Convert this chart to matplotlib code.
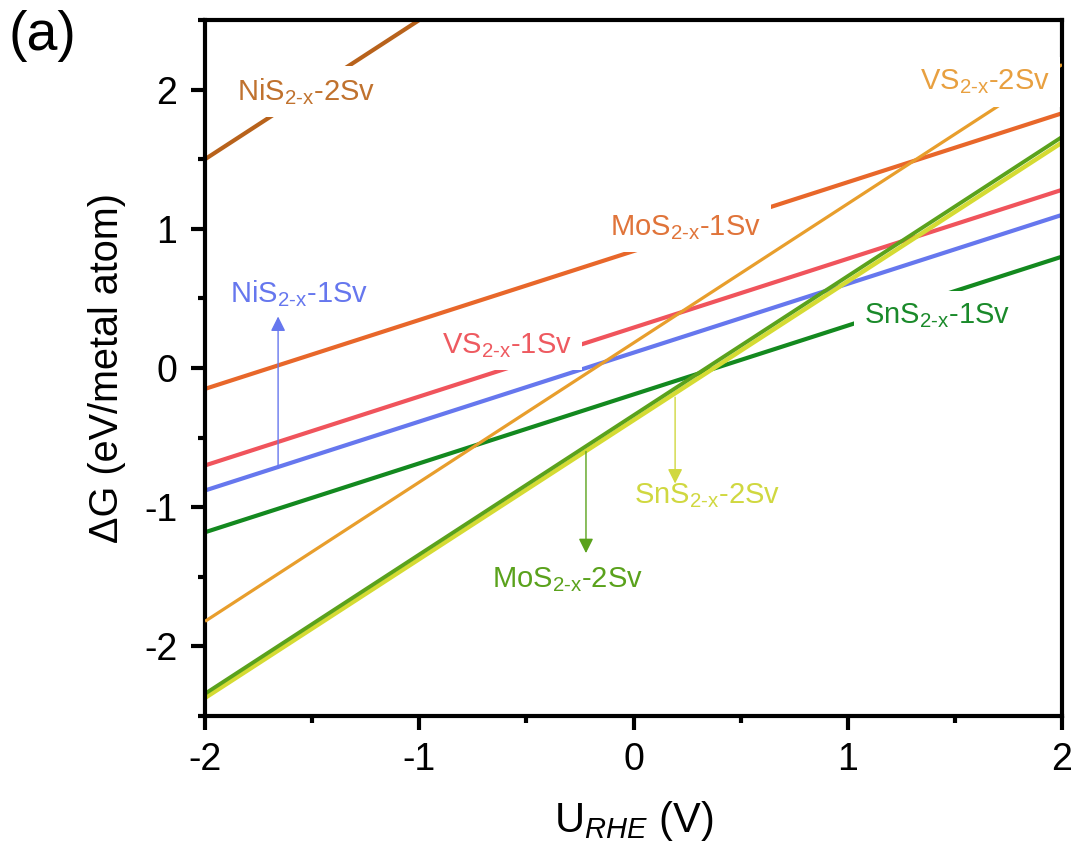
import numpy as np
import matplotlib.pyplot as plt
from matplotlib.ticker import MultipleLocator

plt.rcParams['font.family'] = ['Liberation Sans', 'DejaVu Sans']
plt.rcParams['mathtext.fontset'] = 'custom'
plt.rcParams['mathtext.rm'] = 'Liberation Sans'
plt.rcParams['mathtext.it'] = 'Liberation Sans:italic'
plt.rcParams['axes.unicode_minus'] = False

# Free energy lines, read at U = -2 V and U = 2 V
u_rhe = [-2, 2]
nis_2sv = [1.50, 5.50]
mos_1sv = [-0.15, 1.83]
vs_1sv = [-0.70, 1.28]
nis_1sv = [-0.88, 1.10]
sns_1sv = [-1.18, 0.80]
vs_2sv = [-1.82, 2.18]
sns_2sv = [-2.37, 1.62]
mos_2sv = [-2.34, 1.66]

# name, vacancies, values, colour, width, zorder
series = [
    ('NiS', '2', nis_2sv, '#B8621B', 3.0, 2),
    ('MoS', '1', mos_1sv, '#E8672A', 3.0, 2),
    ('VS', '1', vs_1sv, '#F0545C', 3.0, 2),
    ('NiS', '1', nis_1sv, '#6677EE', 3.0, 2),
    ('SnS', '1', sns_1sv, '#13891F', 3.0, 2),
    ('VS', '2', vs_2sv, '#E89E2C', 2.3, 3.5),
    ('SnS', '2', sns_2sv, '#D5DB33', 3.2, 2),
    ('MoS', '2', mos_2sv, '#5AA21C', 2.8, 2),
]

# label anchor (x, baseline y, ha) and text colour
labels = {
    ('NiS', '2'): (-1.85, 1.925, 'left', '#C0722E'),
    ('VS', '2'): (1.944, 2.0, 'right', '#E8A040'),
    ('MoS', '1'): (-0.11, 0.955, 'left', '#E0743A'),
    ('NiS', '1'): (-1.883, 0.474, 'left', '#6677EE'),
    ('VS', '1'): (-0.894, 0.108, 'left', '#EE5A60'),
    ('SnS', '1'): (1.076, 0.323, 'left', '#1A8A2A'),
    ('SnS', '2'): (0.002, -0.97, 'left', '#D0D840'),
    ('MoS', '2'): (-0.66, -1.573, 'left', '#5AA21C'),
}

# arrows: x, start y, tip y, colour
arrows = [
    (-1.659, -0.70, 0.37, '#6677EE'),
    (0.194, -0.21, -0.83, '#D0D840'),
    (-0.222, -0.60, -1.33, '#5AA21C'),
]

fig = plt.figure(figsize=(10.78, 8.55), dpi=100)
ax = fig.add_axes([0.1902, 0.1626, 0.795, 0.814])

for metal, n, yv, col, lw, z in series:
    ax.plot(u_rhe, yv, color=col, lw=lw, solid_capstyle='butt', zorder=z)

for (metal, n), (tx, ty, ha, col) in labels.items():
    txt = metal + r'$_{\mathregular{2\text{-}x}}$-' + n + 'Sv'
    z = 4 if (metal, n) == ('VS', '2') else 3
    ax.text(tx, ty, txt, color=col, fontsize=21, ha=ha, va='baseline', zorder=z,
            bbox=dict(boxstyle='square,pad=0.35', facecolor='white', edgecolor='none'))

for x, y0, y1, col in arrows:
    ax.annotate('', xy=(x, y1), xytext=(x, y0), zorder=5,
                arrowprops=dict(arrowstyle='-|>', color=col, lw=1.0, mutation_scale=22,
                                shrinkA=0, shrinkB=0))

ax.set_xlim(-2, 2)
ax.set_ylim(-2.5, 2.5)
ax.set_xticks([-2, -1, 0, 1, 2])
ax.set_yticks([-2, -1, 0, 1, 2])
ax.xaxis.set_minor_locator(MultipleLocator(0.5))
ax.yaxis.set_minor_locator(MultipleLocator(0.5))
ax.tick_params(which='major', direction='out', length=10, width=3, labelsize=27,
               top=False, right=False)
ax.tick_params(axis='x', which='major', pad=9)
ax.tick_params(axis='y', which='major', pad=10)
ax.tick_params(which='minor', direction='out', length=5, width=3, top=False, right=False)
for s in ax.spines.values():
    s.set_linewidth(3)

ax.set_xlabel(r'U$_{\mathit{RHE}}$ (V)', fontsize=30, labelpad=15)
ax.set_ylabel('ΔG (eV/metal atom)', fontsize=28.5, labelpad=13)

fig.text(0.008, 0.988, '(a)', fontsize=40, va='top', ha='left')

fig.savefig('out.png', dpi=100)
